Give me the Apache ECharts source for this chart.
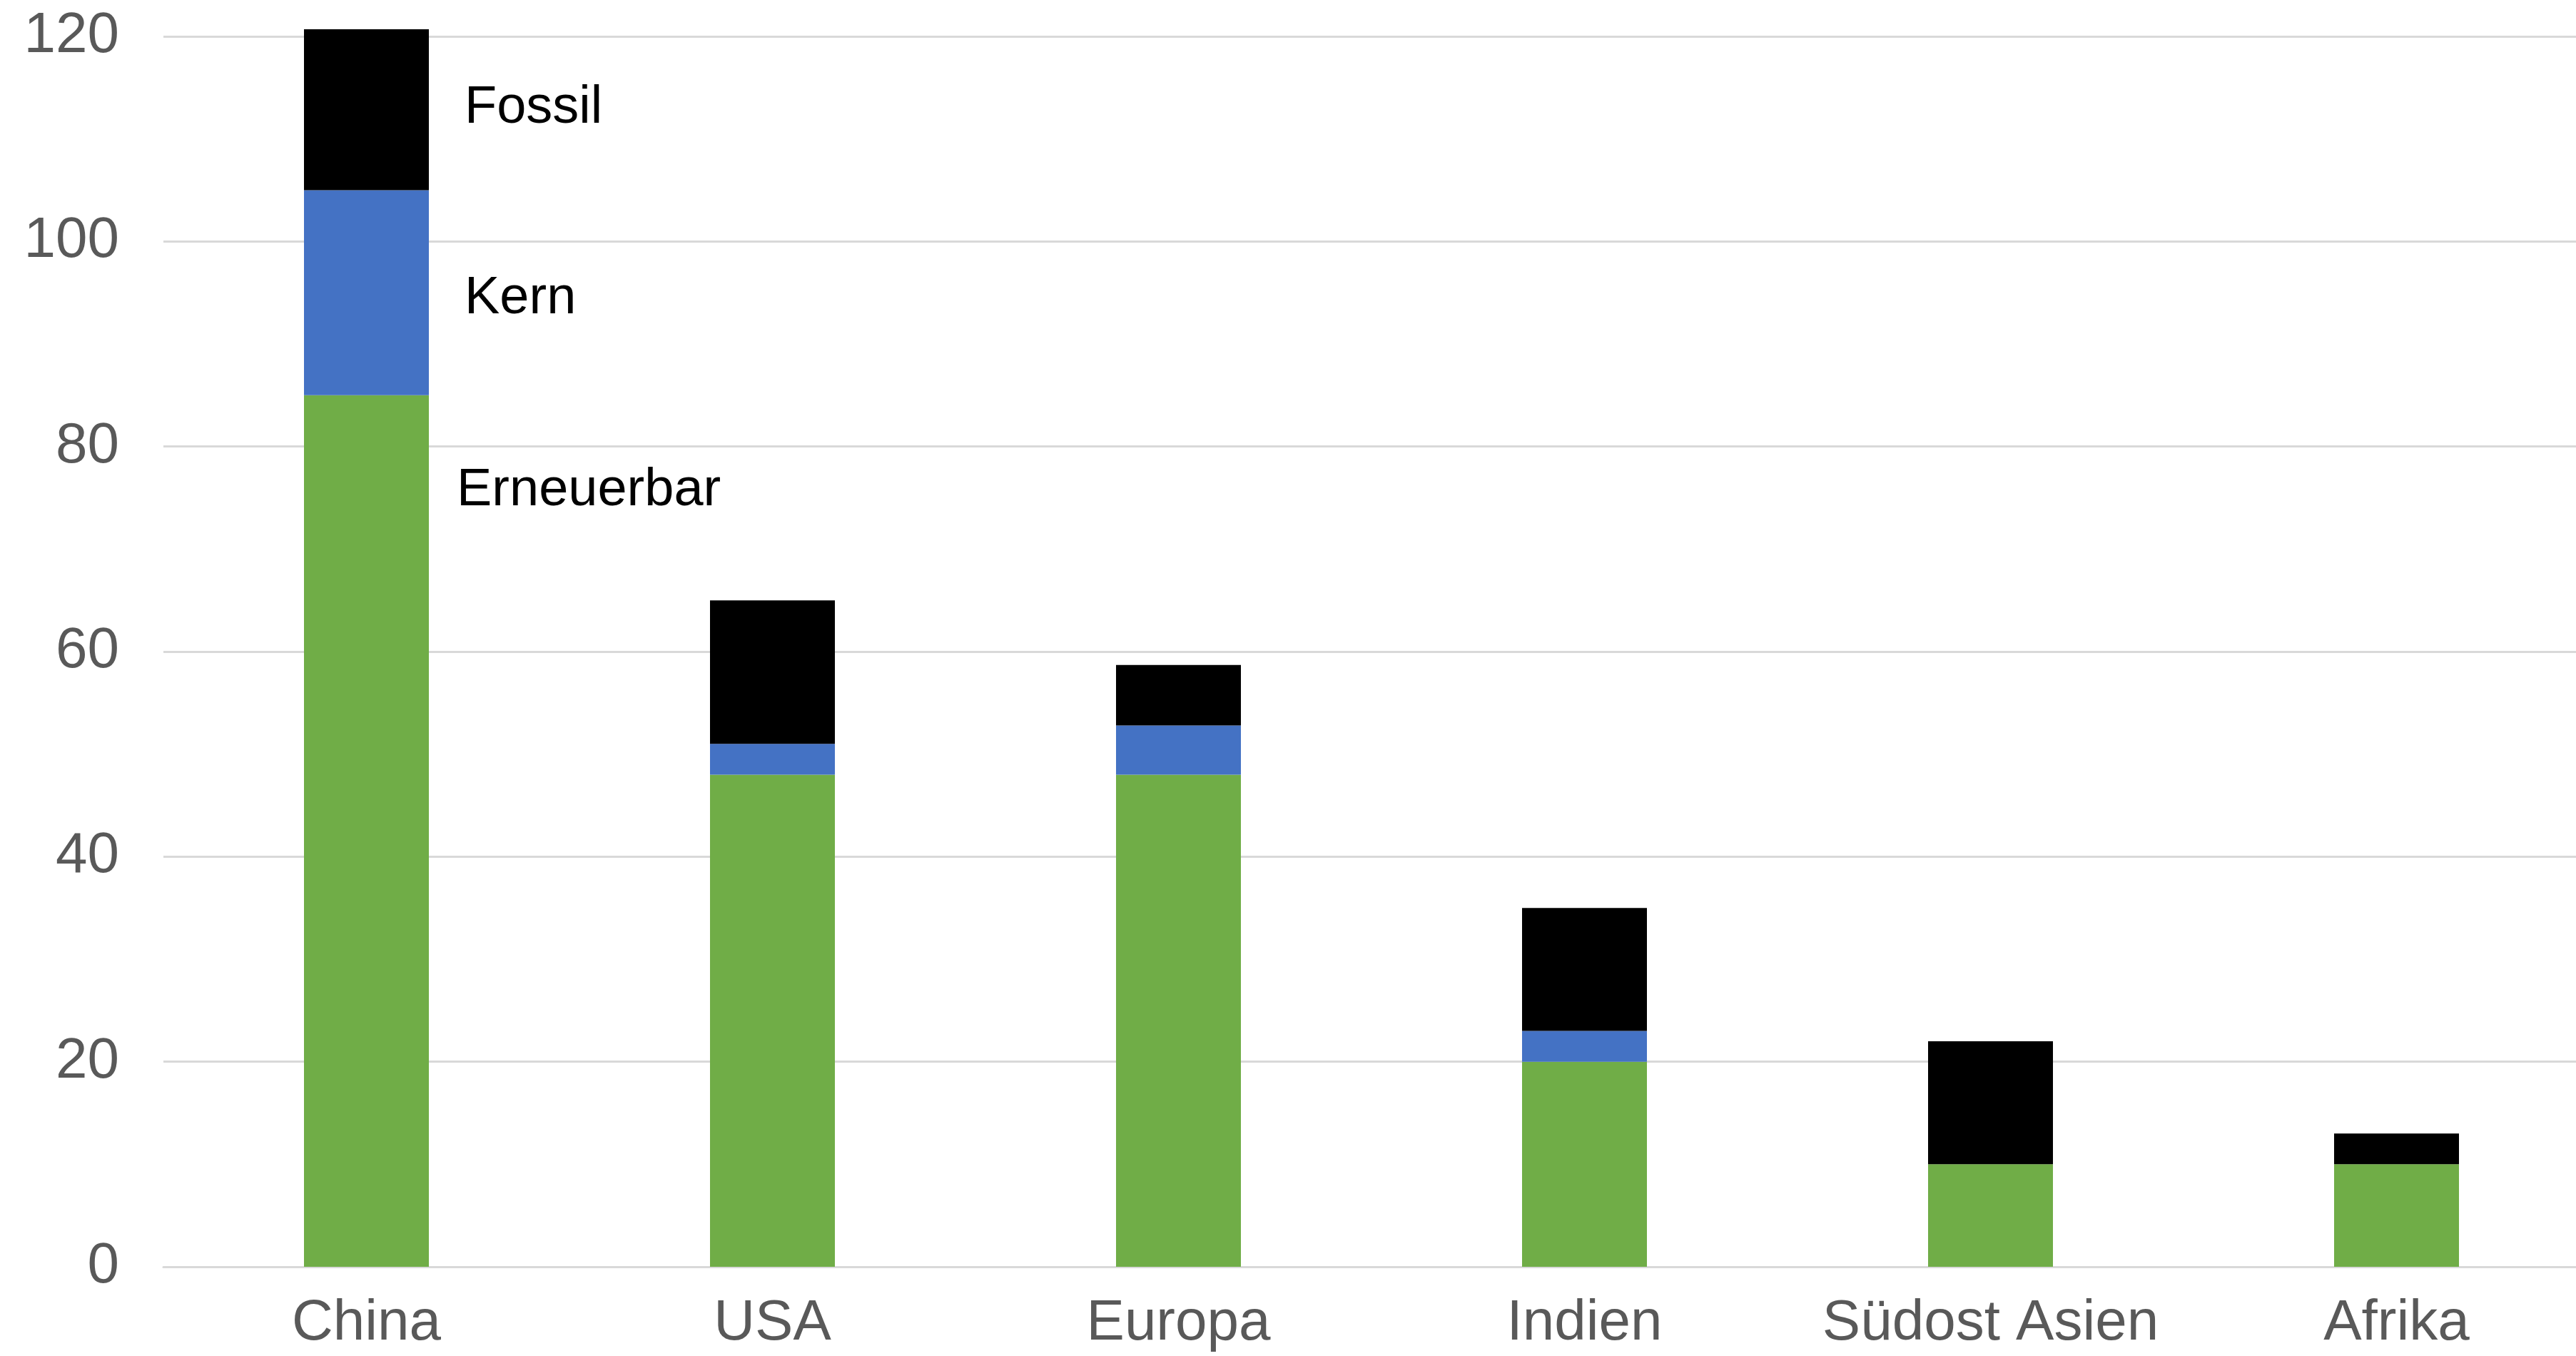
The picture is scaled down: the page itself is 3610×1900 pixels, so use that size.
<!DOCTYPE html>
<html>
<head>
<meta charset="utf-8">
<script src="https://cdn.jsdelivr.net/npm/echarts@6/dist/echarts.min.js"></script>
<style>
  html, body { margin: 0; padding: 0; background: #ffffff; overflow: hidden; }
  /* the plot area runs slightly past the right edge of the page */
  #chart { width: 3643px; height: 1900px; }
</style>
</head>
<body>
<div id="chart"></div>
<script>
// Regions along the x axis
const regions = ['China', 'USA', 'Europa', 'Indien', 'Südost Asien', 'Afrika'];

// Stacked components per region
const erneuerbar = [85, 48, 48, 20, 10, 10];
const kern       = [20, 3, 4.8, 3, 0, 0];
const fossil     = [15.7, 14, 5.9, 12, 12, 3];

// Value axis
const yMin = 0;
const yMax = 120;
const yStep = 20;

const FONT = '"Liberation Sans", Arial, Helvetica, sans-serif';

// Only the first bar carries the series name as a label beside it
function withFirstLabel(values, label) {
  return values.map((v, i) => i === 0 ? { value: v, label: label } : v);
}

const labelStyle = {
  show: true,
  fontFamily: FONT,
  fontSize: 74,
  color: '#000000',
  formatter: '{a}'
};

const chart = echarts.init(document.getElementById('chart'), null, { renderer: 'canvas' });

chart.setOption({
  animation: false,
  backgroundColor: '#ffffff',
  grid: { left: 229, right: 0, top: 51, bottom: 125, containLabel: false },
  xAxis: {
    type: 'category',
    data: regions,
    axisLine: { show: true, lineStyle: { color: '#D9D9D9', width: 3 } },
    axisTick: { show: false },
    axisLabel: { interval: 0, fontFamily: FONT, fontSize: 80, color: '#595959', margin: 40 }
  },
  yAxis: {
    type: 'value',
    min: yMin,
    max: yMax,
    interval: yStep,
    axisLine: { show: false },
    axisTick: { show: false },
    axisLabel: { fontFamily: FONT, fontSize: 80, color: '#595959', margin: 62 },
    splitLine: { lineStyle: { color: '#D9D9D9', width: 3 } }
  },
  series: [
    {
      name: 'Erneuerbar',
      type: 'bar',
      stack: 'total',
      barWidth: 175,
      clip: false,
      itemStyle: { color: '#70AD47' },
      data: withFirstLabel(erneuerbar, Object.assign({}, labelStyle, {
        position: [214, 134], verticalAlign: 'middle', align: 'left'
      }))
    },
    {
      name: 'Kern',
      type: 'bar',
      stack: 'total',
      clip: false,
      itemStyle: { color: '#4472C4' },
      data: withFirstLabel(kern, Object.assign({}, labelStyle, {
        position: 'right', distance: 50, offset: [0, 8]
      }))
    },
    {
      name: 'Fossil',
      type: 'bar',
      stack: 'total',
      clip: false,
      itemStyle: { color: '#000000' },
      data: withFirstLabel(fossil, Object.assign({}, labelStyle, {
        position: 'right', distance: 50, offset: [0, -2]
      }))
    }
  ]
});
</script>
</body>
</html>
